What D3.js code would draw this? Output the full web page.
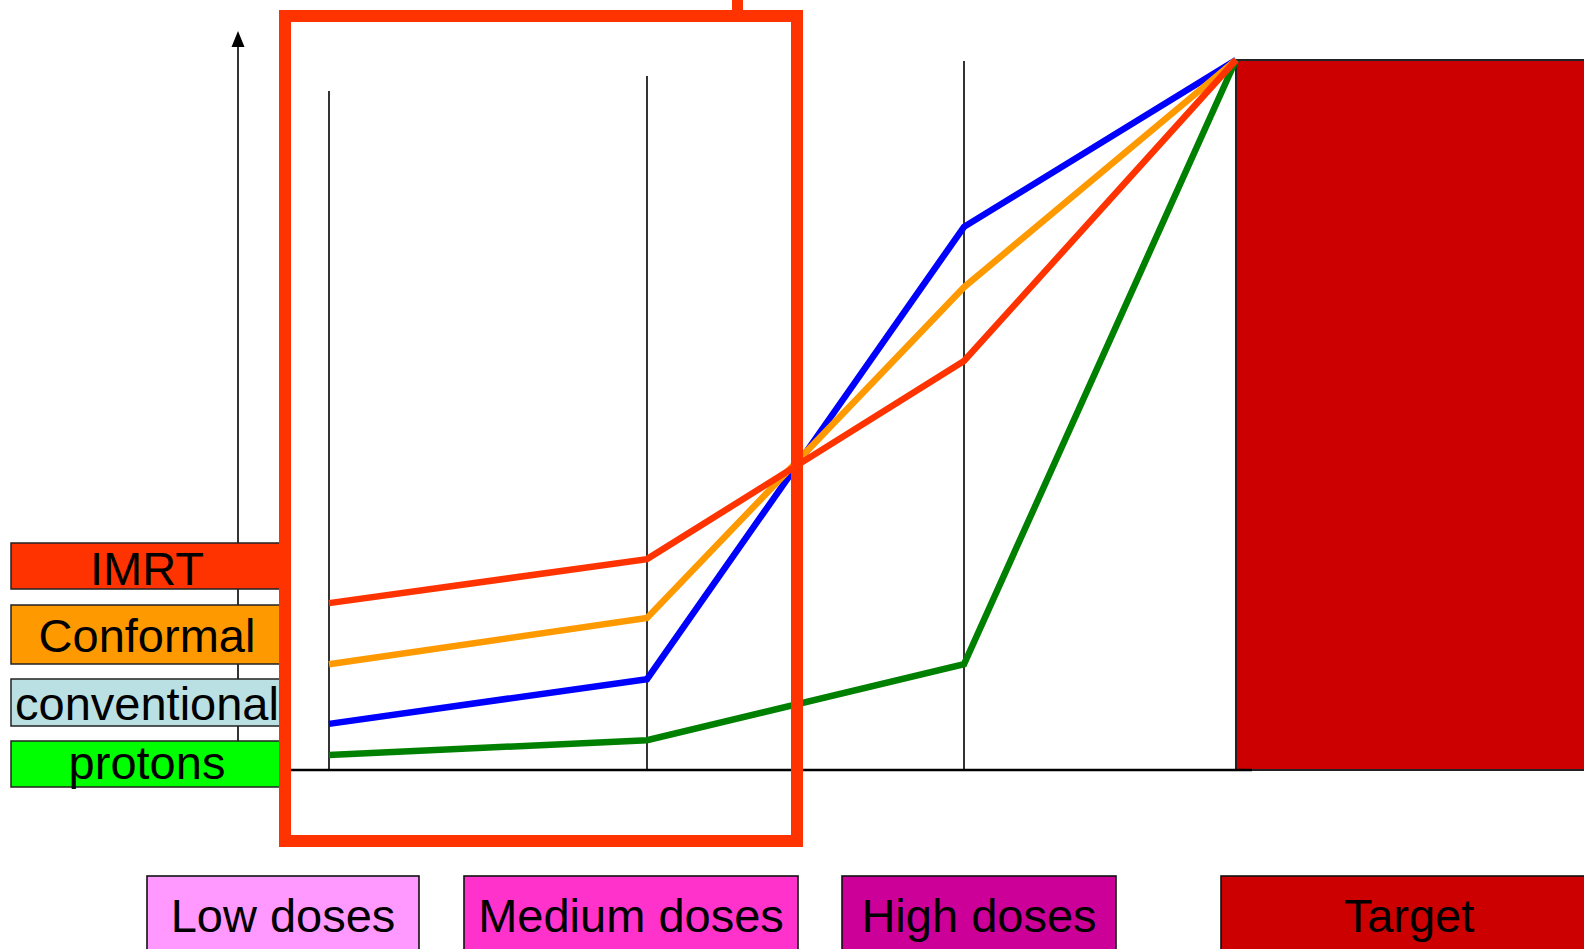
<!DOCTYPE html>
<html>
<head>
<meta charset="utf-8">
<script src="https://cdn.jsdelivr.net/npm/d3@7"></script>
<style>
  html, body { margin: 0; padding: 0; background: #fff; }
  svg { display: block; font-family: "Liberation Sans", Arial, sans-serif; }
</style>
</head>
<body>
<svg id="chart" width="1584" height="949"></svg>
<script>
// Dose levels along the horizontal axis
const levels = ["Low doses", "Medium doses", "High doses", "Target"];
const levelFills = ["#FF99FF", "#FF33CC", "#CC0099", "#CC0000"];

// Techniques (legend order, top to bottom)
const techniques = ["IMRT", "Conformal", "conventional", "protons"];
const techniqueFills = ["#FF3300", "#FF9900", "#BBE0E3", "#00FF00"];
const lineColors = ["#FF3300", "#FF9900", "#0000FF", "#008000"];

// Relative dose reaching each level, per technique (Target = 100)
const imrt = [23.5, 29.7, 57.6, 100];
const conformal = [14.9, 21.4, 68.0, 100];
const conventional = [6.5, 12.8, 76.5, 100];
const protons = [2.1, 4.2, 14.9, 100];
const seriesValues = [imrt, conformal, conventional, protons];

const svg = d3.select("#chart");

const baseY = 770;
const y = d3.scaleLinear().domain([0, 100]).range([baseY, 60]);
const x = d3.scaleOrdinal().domain(levels).range([329, 647, 964, 1236]);

// Vertical guides at the three dose levels
const guideTops = [91, 76, 61];
svg.append("g").selectAll("line")
  .data(levels.slice(0, 3))
  .join("line")
  .attr("x1", d => x(d)).attr("x2", d => x(d))
  .attr("y1", (d, i) => guideTops[i]).attr("y2", baseY)
  .attr("stroke", "#000").attr("stroke-width", 1.6);

// Vertical dose axis with arrow head
svg.append("line")
  .attr("x1", 238).attr("x2", 238).attr("y1", baseY).attr("y2", 44)
  .attr("stroke", "#000").attr("stroke-width", 1.6);
svg.append("path")
  .attr("d", "M238,31 L231.5,47 L244.5,47 Z")
  .attr("fill", "#000");

// Target block
svg.append("rect")
  .attr("x", x("Target")).attr("y", y(100))
  .attr("width", 1600 - x("Target")).attr("height", baseY - y(100))
  .attr("fill", levelFills[3]).attr("stroke", "#222").attr("stroke-width", 2);

// Baseline
svg.append("line")
  .attr("x1", 285).attr("x2", 1252).attr("y1", baseY).attr("y2", baseY)
  .attr("stroke", "#000").attr("stroke-width", 2.6);

// Dose fall-off lines, drawn bottom series first
const line = d3.line().x(d => x(d.level)).y(d => y(d.value));
const order = [3, 2, 1, 0];
svg.append("g").selectAll("path")
  .data(order)
  .join("path")
  .attr("d", i => line(seriesValues[i].map((v, k) => ({ level: levels[k], value: v }))))
  .attr("fill", "none")
  .attr("stroke", i => lineColors[i])
  .attr("stroke-width", 6.5)
  .attr("stroke-linejoin", "miter");

// Technique legend boxes
const legendBoxes = [
  { top: 543, bottom: 589, base: 585 },
  { top: 605, bottom: 664, base: 652 },
  { top: 679, bottom: 726, base: 720 },
  { top: 741, bottom: 787, base: 779 }
];
const lg = svg.append("g").selectAll("g")
  .data(techniques)
  .join("g");
lg.append("rect")
  .attr("x", 11).attr("width", 274)
  .attr("y", (d, i) => legendBoxes[i].top)
  .attr("height", (d, i) => legendBoxes[i].bottom - legendBoxes[i].top)
  .attr("fill", (d, i) => techniqueFills[i])
  .attr("stroke", "#222").attr("stroke-width", 1.5);
lg.append("text")
  .attr("x", 147)
  .attr("y", (d, i) => legendBoxes[i].base)
  .attr("text-anchor", "middle")
  .attr("font-size", 47)
  .attr("fill", "#000")
  .text(d => d);

// Highlight frame around the low/medium dose region
svg.append("rect")
  .attr("x", 285).attr("y", 16).attr("width", 512).attr("height", 825)
  .attr("fill", "none").attr("stroke", "#FF3300").attr("stroke-width", 12);
svg.append("line")
  .attr("x1", 737.5).attr("x2", 737.5).attr("y1", 0).attr("y2", 16)
  .attr("stroke", "#FF3300").attr("stroke-width", 11);

// Dose level labels along the bottom
const levelBoxes = [
  { x0: 147, x1: 419, cx: 283 },
  { x0: 464, x1: 798, cx: 631 },
  { x0: 842, x1: 1116, cx: 979 },
  { x0: 1221, x1: 1600, cx: 1409 }
];
const bg = svg.append("g").selectAll("g")
  .data(levels)
  .join("g");
bg.append("rect")
  .attr("x", (d, i) => levelBoxes[i].x0)
  .attr("width", (d, i) => levelBoxes[i].x1 - levelBoxes[i].x0)
  .attr("y", 876).attr("height", 90)
  .attr("fill", (d, i) => levelFills[i])
  .attr("stroke", "#111").attr("stroke-width", 1.6);
bg.append("text")
  .attr("x", (d, i) => levelBoxes[i].cx)
  .attr("y", 932)
  .attr("text-anchor", "middle")
  .attr("font-size", 47)
  .attr("fill", "#000")
  .text(d => d);
</script>
</body>
</html>
